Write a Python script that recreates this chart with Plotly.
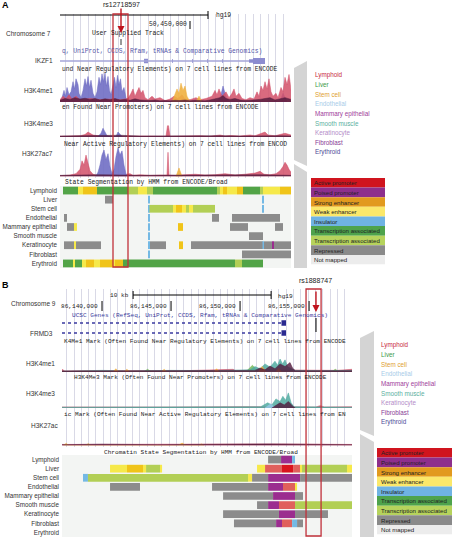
import plotly.graph_objects as go

W, H = 452, 538

# ---------------- data ----------------
CELL_TYPES = ["Lymphoid", "Liver", "Stem cell", "Endothelial", "Mammary epithelial",
              "Smooth muscle", "Keratinocyte", "Fibroblast", "Erythroid"]
CELL_COLORS = ["#c8283c", "#3c9a48", "#e0a030", "#a8cce8", "#a0409a",
               "#5ab0a0", "#b48cc8", "#883c96", "#4c4c98"]
STATE_NAMES = ["Active promoter", "Poised promoter", "Strong enhancer", "Weak enhancer",
               "Insulator", "Transcription associated", "Transcription associated",
               "Repressed", "Not mapped"]
STATE_COLORS = ["#d0141e", "#8e2f8c", "#e29a1e", "#fbe86a", "#6fb3e3",
                "#4ea34c", "#b6d35c", "#8a8a8a", "#ececec"]
TRACK_STATE_COLORS = {"AP": "#d9141e", "WP": "#e0605c", "PP": "#9b2d8f", "SE": "#f0c419",
                      "WE": "#f6e94a", "IN": "#74b9e4", "TA": "#52a447", "TW": "#b2cf55",
                      "RE": "#8c8c8c"}

REGION_A = [50437.0, 50460.1]          # kb, chr7
REGION_B = [86137.10, 86158.11]        # kb, chr9
SNP_A, SNP_A_BOX, SNP_A_NAME = 50443.1, [50442.3, 50443.8], "rs12718597"
SNP_B, SNP_B_BOX, SNP_B_NAME = 86155.50, [86154.78, 86155.87], "rs1888747"
TICK_A, TICK_A_TEXT = [50450.0], ["50,450,000"]
TICK_B = [86140.0, 86145.0, 86150.0, 86155.0]
TICK_B_TEXT = ["86,140,000", "86,145,000", "86,150,000", "86,155,000"]
SCALE_A = [50437.0, 50451.8]
SCALE_B, SCALE_B_LABEL = [86142.25, 86152.25], "10 kb"

GENE_A_SPAN = [50437.0, 50455.9]
GENE_A_EXON_START = [50445.4, 50448.2, 50450.2, 50451.7, 50453.2, 50455.9, 50456.3]
GENE_A_EXON_END = [50445.8, 50448.25, 50450.25, 50451.75, 50453.25, 50456.3, 50457.5]
GENE_A_EXON_H = [0.9, 0.7, 0.7, 0.7, 0.7, 0.7, 1.2]
GENE_B_ROWS = [1, 0]
GENE_B_SPAN = [86137.10, 86153.0]
GENE_B_BLOCK = [86153.0, 86153.33]

SEG_A = [
    ("Lymphoid", 50437.3, 50438.8, "TA"), ("Lymphoid", 50438.8, 50439.3, "WE"),
    ("Lymphoid", 50439.3, 50440.7, "SE"), ("Lymphoid", 50440.7, 50443.8, "TA"),
    ("Lymphoid", 50443.8, 50444.8, "TW"), ("Lymphoid", 50444.8, 50445.7, "WE"),
    ("Lymphoid", 50445.7, 50446.3, "TW"), ("Lymphoid", 50446.3, 50452.7, "TA"),
    ("Lymphoid", 50452.7, 50453.0, "TW"), ("Lymphoid", 50453.0, 50453.3, "WE"),
    ("Lymphoid", 50453.3, 50453.7, "SE"), ("Lymphoid", 50453.7, 50454.7, "WE"),
    ("Lymphoid", 50454.7, 50455.3, "SE"), ("Lymphoid", 50455.3, 50457.0, "TA"),
    ("Lymphoid", 50457.0, 50457.3, "TW"), ("Lymphoid", 50457.3, 50459.0, "WE"),
    ("Lymphoid", 50459.0, 50460.1, "SE"),
    ("Liver", 50441.5, 50442.3, "RE"), ("Liver", 50445.8, 50445.95, "IN"),
    ("Liver", 50457.25, 50457.4, "IN"),
    ("Stem cell", 50445.8, 50445.95, "IN"), ("Stem cell", 50445.95, 50448.3, "TW"),
    ("Stem cell", 50448.3, 50448.6, "WE"), ("Stem cell", 50448.6, 50449.2, "SE"),
    ("Stem cell", 50449.2, 50449.6, "WE"), ("Stem cell", 50449.6, 50449.9, "TW"),
    ("Stem cell", 50449.9, 50450.3, "WE"), ("Stem cell", 50450.3, 50452.5, "TW"),
    ("Stem cell", 50457.25, 50457.4, "IN"),
    ("Endothelial", 50437.4, 50437.7, "RE"), ("Endothelial", 50445.8, 50445.95, "IN"),
    ("Endothelial", 50452.2, 50452.9, "RE"), ("Endothelial", 50454.2, 50459.0, "RE"),
    ("Mammary epithelial", 50437.7, 50438.4, "RE"), ("Mammary epithelial", 50438.4, 50438.7, "WE"),
    ("Mammary epithelial", 50445.8, 50445.95, "IN"), ("Mammary epithelial", 50448.8, 50449.3, "SE"),
    ("Mammary epithelial", 50454.0, 50455.8, "RE"), ("Mammary epithelial", 50458.5, 50459.3, "RE"),
    ("Smooth muscle", 50445.8, 50445.95, "IN"), ("Smooth muscle", 50455.9, 50457.3, "RE"),
    ("Keratinocyte", 50437.4, 50438.4, "RE"), ("Keratinocyte", 50438.4, 50438.6, "WE"),
    ("Keratinocyte", 50438.6, 50441.1, "RE"), ("Keratinocyte", 50445.8, 50445.95, "IN"),
    ("Keratinocyte", 50446.0, 50447.6, "RE"), ("Keratinocyte", 50448.9, 50449.3, "SE"),
    ("Keratinocyte", 50450.1, 50457.25, "RE"), ("Keratinocyte", 50457.25, 50457.4, "IN"),
    ("Keratinocyte", 50457.4, 50458.2, "RE"), ("Keratinocyte", 50458.2, 50458.4, "PP"),
    ("Keratinocyte", 50458.4, 50460.1, "RE"),
    ("Fibroblast", 50445.8, 50445.95, "IN"), ("Fibroblast", 50455.2, 50460.1, "RE"),
    ("Erythroid", 50437.3, 50438.3, "TA"), ("Erythroid", 50438.3, 50438.5, "WE"),
    ("Erythroid", 50438.5, 50439.2, "TA"), ("Erythroid", 50439.2, 50439.6, "WE"),
    ("Erythroid", 50439.6, 50440.4, "SE"), ("Erythroid", 50440.4, 50441.0, "WE"),
    ("Erythroid", 50441.0, 50442.3, "SE"), ("Erythroid", 50442.3, 50442.5, "WE"),
    ("Erythroid", 50442.5, 50443.3, "SE"), ("Erythroid", 50443.3, 50454.5, "TA"),
    ("Erythroid", 50454.5, 50455.2, "TW"), ("Erythroid", 50455.2, 50457.3, "TA"),
]

SEG_B = [
    ("Lymphoid", 86152.03, 86152.97, "RE"), ("Lymphoid", 86152.97, 86153.77, "PP"),
    ("Lymphoid", 86153.77, 86153.98, "IN"),
    ("Liver", 86140.58, 86141.81, "WE"), ("Liver", 86141.81, 86142.97, "SE"),
    ("Liver", 86142.97, 86143.19, "WE"), ("Liver", 86143.19, 86144.20, "TW"),
    ("Liver", 86144.20, 86144.35, "WE"), ("Liver", 86151.23, 86151.81, "WE"),
    ("Liver", 86151.81, 86153.04, "WP"), ("Liver", 86153.04, 86153.84, "AP"),
    ("Liver", 86153.84, 86154.35, "WP"), ("Liver", 86154.35, 86154.49, "WE"),
    ("Liver", 86154.49, 86157.75, "TW"), ("Liver", 86157.75, 86158.11, "WE"),
    ("Stem cell", 86138.62, 86138.98, "IN"), ("Stem cell", 86138.98, 86150.58, "TW"),
    ("Stem cell", 86150.58, 86150.87, "WE"), ("Stem cell", 86150.87, 86152.03, "RE"),
    ("Stem cell", 86152.03, 86154.35, "PP"), ("Stem cell", 86154.35, 86158.11, "RE"),
    ("Endothelial", 86140.58, 86142.75, "RE"), ("Endothelial", 86147.97, 86152.03, "RE"),
    ("Endothelial", 86152.03, 86153.11, "PP"), ("Endothelial", 86153.11, 86153.98, "WP"),
    ("Endothelial", 86153.98, 86154.13, "WE"),
    ("Mammary epithelial", 86148.77, 86152.39, "RE"), ("Mammary epithelial", 86152.39, 86153.98, "PP"),
    ("Mammary epithelial", 86153.98, 86154.56, "RE"),
    ("Smooth muscle", 86151.23, 86152.03, "RE"), ("Smooth muscle", 86152.03, 86152.82, "PP"),
    ("Smooth muscle", 86152.82, 86153.98, "WP"), ("Smooth muscle", 86153.98, 86158.11, "TW"),
    ("Keratinocyte", 86148.77, 86152.82, "RE"), ("Keratinocyte", 86152.82, 86153.98, "PP"),
    ("Keratinocyte", 86153.98, 86156.37, "RE"),
    ("Fibroblast", 86149.56, 86152.61, "RE"), ("Fibroblast", 86152.61, 86153.04, "PP"),
    ("Fibroblast", 86153.04, 86153.77, "WP"), ("Fibroblast", 86153.77, 86154.13, "IN"),
    ("Fibroblast", 86154.13, 86154.56, "RE"),
]

# ---- signal tracks, panel A (kb, relative signal 0-100) ----
A_ME1_BLUE_X = [50437.0, 50437.2, 50437.4, 50437.55, 50437.7, 50437.9, 50438.1, 50438.3, 50438.45, 50438.6,
                50438.8, 50438.9, 50439.1, 50439.3, 50439.5, 50439.65, 50439.8, 50439.95, 50440.1, 50440.3,
                50440.5, 50440.7, 50440.9, 50441.05, 50441.2, 50441.35, 50441.5, 50441.65, 50441.8, 50441.95,
                50442.1, 50442.3, 50442.45, 50442.6, 50442.75, 50442.9, 50443.05, 50443.2, 50443.4, 50443.6,
                50443.8, 50444.0, 50452.8, 50453.1, 50453.3, 50453.5, 50453.7, 50454.0, 50459.0, 50459.3,
                50459.5, 50459.7]
A_ME1_BLUE_Y = [3, 15, 40, 20, 50, 25, 35, 70, 45, 80, 60, 30, 15, 40, 80, 55, 88, 50, 75, 30,
                15, 35, 85, 60, 97, 70, 100, 55, 88, 40, 25, 65, 85, 50, 92, 60, 80, 35, 50, 15,
                5, 2, 2, 25, 55, 30, 10, 2, 2, 30, 15, 2]
A_ME1_RED_X = [50437.0, 50437.3, 50437.6, 50437.9, 50438.2, 50438.6, 50439.0, 50440.0, 50441.0, 50442.0,
               50443.0, 50443.8, 50444.1, 50444.3, 50444.5, 50444.7, 50444.9, 50445.1, 50445.3, 50445.5,
               50445.8, 50446.2, 50446.5, 50447.0, 50447.5, 50448.0, 50448.4, 50448.8, 50449.2, 50449.5,
               50450.0, 50450.6, 50451.0, 50451.6, 50452.2, 50452.5, 50452.7, 50452.9, 50453.2, 50453.6,
               50453.9, 50454.2, 50454.4, 50454.6, 50454.9, 50455.2, 50455.6, 50456.0, 50456.4, 50456.7,
               50456.9, 50457.1, 50457.3, 50457.5, 50457.7, 50457.9, 50458.1, 50458.3, 50458.6, 50458.8,
               50459.1, 50459.3, 50459.5, 50459.7, 50459.9, 50460.0, 50460.1]
A_ME1_RED_Y = [8, 20, 12, 25, 10, 20, 8, 12, 8, 10, 8, 12, 30, 45, 20, 35, 50, 30, 40, 15,
               8, 20, 10, 15, 5, 10, 20, 12, 25, 10, 8, 15, 8, 12, 20, 40, 25, 45, 20, 35,
               15, 30, 45, 20, 30, 12, 8, 15, 10, 35, 20, 55, 40, 70, 45, 80, 35, 20, 30, 15,
               50, 35, 85, 60, 95, 70, 40]
A_ME1_DARK_X = [50437.0, 50437.5, 50438.0, 50438.5, 50439.0, 50439.5, 50440.0, 50440.5, 50441.0, 50441.5,
                50442.0, 50442.5, 50443.0, 50443.5, 50444.0, 50444.5, 50445.0, 50445.5, 50446.0, 50446.5,
                50447.0, 50447.5, 50448.0, 50448.5, 50449.0, 50449.5, 50450.0, 50450.5, 50451.0, 50451.5,
                50452.0, 50452.5, 50453.0, 50453.3, 50453.6, 50454.0, 50454.5, 50455.0, 50455.5, 50456.0,
                50456.5, 50457.0, 50457.5, 50458.0, 50458.5, 50459.0, 50459.5, 50460.1]
A_ME1_DARK_Y = [6, 12, 9, 15, 10, 13, 9, 12, 7, 11, 8, 12, 7, 9, 6, 11, 7, 6, 5, 7,
                4, 5, 4, 6, 5, 7, 4, 6, 5, 4, 7, 11, 15, 22, 12, 9, 12, 7, 5, 6,
                7, 9, 12, 15, 7, 12, 15, 9]
A_ME1_ORANGE_X = [50448.2, 50448.5, 50448.7, 50448.9, 50449.1, 50449.3, 50449.5, 50449.7, 50450.0,
                  50450.6, 50450.9, 50451.2]
A_ME1_ORANGE_Y = [0, 25, 45, 30, 65, 40, 55, 20, 0, 0, 20, 0]

A_ME3_RED_X = [50437.0, 50438.0, 50439.0, 50439.5, 50439.8, 50440.0, 50440.3, 50441.0, 50442.0, 50443.5,
               50445.0, 50446.0, 50447.0, 50447.6, 50447.75, 50447.85, 50448.0, 50449.0, 50450.0, 50451.0,
               50452.0, 50453.0, 50453.5, 50454.0, 50455.0, 50456.0, 50456.5, 50457.2, 50457.5, 50457.8,
               50458.5, 50459.0, 50459.5, 50460.1]
A_ME3_RED_Y = [3, 4, 5, 10, 20, 15, 8, 4, 3, 3, 4, 3, 3, 3, 45, 45, 3, 4, 3, 5,
               3, 8, 4, 6, 4, 8, 5, 15, 20, 8, 5, 10, 15, 8]
A_ME3_BLUE_X = [50440.8, 50441.1, 50441.3, 50441.5, 50441.7, 50442.0, 50442.6, 50442.8, 50443.0, 50443.2]
A_ME3_BLUE_Y = [2, 15, 35, 20, 5, 2, 2, 20, 10, 2]
A_ME3_DARK_X = [50437.0, 50439.0, 50441.0, 50443.0, 50445.0, 50447.0, 50449.0, 50451.0, 50453.0,
                50455.0, 50457.0, 50459.0, 50460.1]
A_ME3_DARK_Y = [4, 6, 5, 7, 4, 5, 4, 6, 5, 4, 6, 5, 4]

A_AC_RED_X = [50437.0, 50438.0, 50438.6, 50439.0, 50439.2, 50439.4, 50439.6, 50439.8, 50440.0, 50440.3,
              50440.6, 50441.0, 50442.0, 50443.4, 50444.0, 50444.3, 50445.0, 50446.0, 50447.0, 50447.7,
              50447.8, 50447.9, 50448.5, 50449.5, 50450.5, 50451.5, 50452.5, 50453.5, 50454.5, 50455.5,
              50456.5, 50457.0, 50457.4, 50458.0, 50458.6, 50459.0, 50459.3, 50459.5, 50459.7, 50459.9,
              50460.1]
A_AC_RED_Y = [3, 5, 10, 25, 55, 40, 75, 45, 20, 8, 5, 4, 5, 6, 10, 4, 6, 4, 5, 5,
              85, 5, 4, 5, 8, 5, 6, 10, 5, 8, 12, 18, 8, 6, 10, 20, 35, 50, 40, 25, 15]
A_AC_BLUE_X = [50440.6, 50440.8, 50441.0, 50441.2, 50441.4, 50441.6, 50441.8, 50442.0, 50442.2, 50442.4,
               50442.6, 50442.8, 50443.0, 50443.2, 50443.4, 50443.6, 50443.8]
A_AC_BLUE_Y = [2, 15, 40, 75, 93, 60, 80, 35, 10, 25, 70, 100, 75, 90, 40, 8, 2]
A_AC_ORANGE_X = [50448.6, 50448.9, 50449.2]
A_AC_ORANGE_Y = [0, 30, 0]
A_AC_DARK_X = [50437.0, 50441.0, 50445.0, 50449.0, 50453.0, 50457.0, 50460.1]
A_AC_DARK_Y = [4, 6, 4, 5, 4, 6, 4]

# ---- signal tracks, panel B ----
B_ME1_TEAL_X = [86137.10, 86140.0, 86142.0, 86145.0, 86148.0, 86150.72, 86151.08, 86151.45, 86151.81,
                86152.17, 86152.53, 86152.72, 86152.90, 86153.08, 86153.26, 86153.44, 86153.62, 86154.0,
                86156.0, 86158.11]
B_ME1_TEAL_Y = [3, 6, 4, 6, 5, 8, 20, 12, 30, 18, 40, 25, 48, 30, 45, 20, 15, 6, 5, 6]
B_ME1_DARK_X = [86137.10, 86151.08, 86151.45, 86151.81, 86152.17, 86152.53, 86152.90, 86153.26,
                86153.62, 86153.80, 86154.0, 86158.11]
B_ME1_DARK_Y = [4, 6, 15, 8, 22, 12, 30, 20, 35, 15, 5, 5]
B_ME1_ORANGE_X = [86137.10, 86140.8, 86141.0, 86141.2, 86141.6, 86141.8, 86142.0, 86144.3, 86144.5,
                  86144.7, 86148.1, 86148.3, 86148.5, 86151.3, 86151.6, 86151.9, 86152.6, 86152.8,
                  86153.0, 86158.11]
B_ME1_ORANGE_Y = [0, 0, 12, 0, 0, 10, 0, 0, 10, 0, 0, 12, 0, 0, 20, 0, 0, 15, 0, 0]
B_ME1_RED_X = [86137.10, 86137.3, 86139.0, 86142.0, 86146.0, 86149.5, 86149.7, 86152.0, 86155.0,
               86157.0, 86158.11]
B_ME1_RED_Y = [10, 4, 5, 4, 5, 10, 4, 8, 8, 6, 10]
B_ME1_GREEN_X = [86143.0, 86143.3, 86143.6, 86150.4, 86150.9, 86151.3, 86156.6, 86156.9, 86157.2]
B_ME1_GREEN_Y = [0, 10, 0, 0, 25, 0, 0, 10, 0]

B_ME3_TEAL_X = [86137.10, 86150.0, 86151.5, 86152.0, 86152.3, 86152.6, 86152.9, 86153.1, 86153.3,
                86153.5, 86153.7, 86153.9, 86158.11]
B_ME3_TEAL_Y = [3, 3, 5, 20, 12, 35, 25, 45, 30, 58, 20, 5, 3]
B_ME3_DARK_X = [86152.3, 86152.6, 86152.9, 86153.2, 86153.5, 86153.8, 86154.0]
B_ME3_DARK_Y = [0, 10, 20, 12, 25, 8, 0]
B_ME3_LBLUE_X = [86151.8, 86152.2, 86152.6]
B_ME3_LBLUE_Y = [0, 15, 0]
B_ME3_RED_X = [86137.10, 86140.0, 86145.0, 86150.0, 86155.5, 86155.8, 86156.1, 86158.11]
B_ME3_RED_Y = [4, 5, 4, 5, 4, 9, 4, 5]

B_AC_ORANGE_X = [86137.2, 86137.4, 86137.6, 86138.8, 86139.0, 86139.2, 86145.5, 86145.8, 86146.1,
                 86147.0, 86147.2, 86147.4]
B_AC_ORANGE_Y = [0, 8, 0, 0, 7, 0, 0, 9, 0, 0, 6, 0]
B_AC_RED_X = [86137.10, 86142.0, 86148.0, 86153.0, 86158.11]
B_AC_RED_Y = [4, 5, 4, 6, 4]
B_AC_DARK_X = [86137.10, 86140.0, 86144.0, 86148.0, 86152.0, 86156.0, 86158.11]
B_AC_DARK_Y = [3, 5, 3, 4, 6, 4, 3]

# ---------------- helpers (layout only) ----------------
def PX(p):
    return p / W

def PY(p):
    return 1 - p / H

C_BLUE = "rgba(112,110,196,0.9)"
C_RED = "rgba(210,80,105,0.85)"
C_DARK = "rgba(80,25,60,0.8)"
C_ORANGE = "rgba(240,176,64,0.9)"
C_TEAL = "rgba(80,170,160,0.85)"
C_GREEN = "rgba(110,180,80,0.8)"
C_LBLUE = "rgba(150,200,230,0.85)"

SANS = "Liberation Sans"
MONO = "Liberation Mono"

fig = go.Figure()

def signal(xs, ys, color, xa, ya):
    fig.add_trace(go.Scatter(x=xs, y=ys, mode="lines", fill="tozeroy", fillcolor=color,
                             line=dict(color=color, width=0.6), xaxis=xa, yaxis=ya,
                             hoverinfo="skip", showlegend=False))

def dummy(xa, ya, x0):
    fig.add_trace(go.Scatter(x=[x0], y=[0], mode="markers", marker=dict(opacity=0),
                             xaxis=xa, yaxis=ya, hoverinfo="skip", showlegend=False))

def segments(seg, xa, ya):
    for code, col in TRACK_STATE_COLORS.items():
        rows = [s for s in seg if s[3] == code]
        if not rows:
            continue
        fig.add_trace(go.Bar(orientation="h", y=[r[0] for r in rows],
                             base=[r[1] for r in rows], x=[r[2] - r[1] for r in rows],
                             width=0.85, marker=dict(color=col, line=dict(width=0)),
                             xaxis=xa, yaxis=ya, hoverinfo="skip", showlegend=False))

# --- panel A traces ---
dummy("x", "y", REGION_A[0])
signal(A_ME1_BLUE_X, A_ME1_BLUE_Y, C_BLUE, "x", "y2")
signal(A_ME1_RED_X, A_ME1_RED_Y, C_RED, "x", "y2")
signal(A_ME1_ORANGE_X, A_ME1_ORANGE_Y, C_ORANGE, "x", "y2")
signal(A_ME1_DARK_X, A_ME1_DARK_Y, C_DARK, "x", "y2")
signal(A_ME3_RED_X, A_ME3_RED_Y, C_RED, "x", "y3")
signal(A_ME3_BLUE_X, A_ME3_BLUE_Y, C_BLUE, "x", "y3")
signal(A_ME3_DARK_X, A_ME3_DARK_Y, C_DARK, "x", "y3")
signal(A_AC_RED_X, A_AC_RED_Y, C_RED, "x", "y4")
signal(A_AC_BLUE_X, A_AC_BLUE_Y, C_BLUE, "x", "y4")
signal(A_AC_ORANGE_X, A_AC_ORANGE_Y, C_ORANGE, "x", "y4")
signal(A_AC_DARK_X, A_AC_DARK_Y, C_DARK, "x", "y4")
# gene IKZF1
fig.add_trace(go.Scatter(x=GENE_A_SPAN, y=[0, 0], mode="lines", line=dict(color="#a4a4d8", width=1.5),
                         xaxis="x", yaxis="y5", hoverinfo="skip", showlegend=False))
fig.add_trace(go.Bar(orientation="h", y=[0] * len(GENE_A_EXON_START), base=GENE_A_EXON_START,
                     x=[e - s for s, e in zip(GENE_A_EXON_START, GENE_A_EXON_END)],
                     width=GENE_A_EXON_H, marker=dict(color="#8c8cd0", line=dict(width=0)),
                     xaxis="x", yaxis="y5", hoverinfo="skip", showlegend=False))
segments(SEG_A, "x2", "y6")

# --- panel B traces ---
dummy("x3", "y7", REGION_B[0])
signal(B_ME1_RED_X, B_ME1_RED_Y, C_RED, "x3", "y8")
signal(B_ME1_GREEN_X, B_ME1_GREEN_Y, C_GREEN, "x3", "y8")
signal(B_ME1_TEAL_X, B_ME1_TEAL_Y, C_TEAL, "x3", "y8")
signal(B_ME1_ORANGE_X, B_ME1_ORANGE_Y, C_ORANGE, "x3", "y8")
signal(B_ME1_DARK_X, B_ME1_DARK_Y, C_DARK, "x3", "y8")
signal(B_ME3_RED_X, B_ME3_RED_Y, C_RED, "x3", "y9")
signal(B_ME3_TEAL_X, B_ME3_TEAL_Y, C_TEAL, "x3", "y9")
signal(B_ME3_LBLUE_X, B_ME3_LBLUE_Y, C_LBLUE, "x3", "y9")
signal(B_ME3_DARK_X, B_ME3_DARK_Y, C_DARK, "x3", "y9")
signal(B_AC_RED_X, B_AC_RED_Y, C_RED, "x3", "y10")
signal(B_AC_ORANGE_X, B_AC_ORANGE_Y, C_ORANGE, "x3", "y10")
signal(B_AC_DARK_X, B_AC_DARK_Y, C_DARK, "x3", "y10")
for r in GENE_B_ROWS:
    fig.add_trace(go.Scatter(x=GENE_B_SPAN, y=[r, r], mode="lines",
                             line=dict(color="#3a3aa0", width=1.6, dash="dot"),
                             xaxis="x3", yaxis="y11", hoverinfo="skip", showlegend=False))
fig.add_trace(go.Bar(orientation="h", y=GENE_B_ROWS, base=[GENE_B_BLOCK[0]] * 2,
                     x=[GENE_B_BLOCK[1] - GENE_B_BLOCK[0]] * 2, width=0.55,
                     marker=dict(color="#2a2a90", line=dict(width=0)),
                     xaxis="x3", yaxis="y11", hoverinfo="skip", showlegend=False))
segments(SEG_B, "x4", "y12")

# --- state legends (as bars) ---
for xa, ya in (("x5", "y13"), ("x6", "y14")):
    fig.add_trace(go.Bar(orientation="h", y=list(range(len(STATE_NAMES))), x=[1] * len(STATE_NAMES),
                         width=1, marker=dict(color=STATE_COLORS, line=dict(width=0)),
                         xaxis=xa, yaxis=ya, hoverinfo="skip", showlegend=False))

# ---------------- axes ----------------
hidden = dict(visible=False, fixedrange=True)
def xgrid(domain, rng, dtick, tick0, anchor):
    return dict(domain=domain, range=rng, showgrid=True, gridcolor="#d9d9e6", gridwidth=1,
                dtick=dtick, tick0=tick0, showticklabels=False, ticks="", zeroline=False,
                showline=False, anchor=anchor, fixedrange=True)

layout = dict(
    width=W, height=H, margin=dict(l=0, r=0, t=0, b=0),
    paper_bgcolor="white", plot_bgcolor="rgba(0,0,0,0)", showlegend=False,
    barmode="overlay", font=dict(family=SANS, size=7, color="#222"),
    xaxis=xgrid([PX(60), PX(291)], REGION_A, 0.75, 50453.3, "y"),
    yaxis=dict(domain=[PY(178), PY(14)], range=[0, 1], **hidden),
    yaxis2=dict(domain=[PY(102), PY(73)], range=[0, 100], anchor="x", **hidden),
    yaxis3=dict(domain=[PY(137), PY(112)], range=[0, 100], anchor="x", **hidden),
    yaxis4=dict(domain=[PY(176.5), PY(148)], range=[0, 100], anchor="x", **hidden),
    yaxis5=dict(domain=[PY(66), PY(56)], range=[-1, 1], anchor="x", **hidden),
    xaxis2=dict(domain=[PX(60), PX(291)], range=REGION_A, anchor="y6", **hidden),
    yaxis6=dict(domain=[PY(268), PY(186)], type="category", categoryorder="array",
                categoryarray=CELL_TYPES, range=[8.5, -0.5], anchor="x2", showgrid=False,
                zeroline=False, ticks="", showline=False, ticklabelstandoff=2,
                tickfont=dict(family=SANS, size=6.3, color="#333"), fixedrange=True),
    xaxis3=xgrid([PX(62), PX(352)], REGION_B, 0.53, 86137.44, "y7"),
    yaxis7=dict(domain=[PY(447), PY(289)], range=[0, 1], anchor="x3", **hidden),
    yaxis8=dict(domain=[PY(372), PY(345)], range=[0, 100], anchor="x3", **hidden),
    yaxis9=dict(domain=[PY(408), PY(382)], range=[0, 100], anchor="x3", **hidden),
    yaxis10=dict(domain=[PY(445.5), PY(419)], range=[0, 100], anchor="x3", **hidden),
    yaxis11=dict(domain=[PY(338), PY(318)], range=[-0.5, 1.5], anchor="x3", **hidden),
    xaxis4=dict(domain=[PX(62), PX(352)], range=REGION_B, anchor="y12", **hidden),
    yaxis12=dict(domain=[PY(537), PY(455)], type="category", categoryorder="array",
                 categoryarray=CELL_TYPES, range=[8.5, -0.5], anchor="x4", showgrid=False,
                 zeroline=False, ticks="", showline=False, ticklabelstandoff=2,
                 tickfont=dict(family=SANS, size=6.3, color="#333"), fixedrange=True),
    xaxis5=dict(domain=[PX(311), PX(385)], range=[0, 1], anchor="y13", **hidden),
    yaxis13=dict(domain=[PY(264.5), PY(178)], range=[8.5, -0.5], anchor="x5", **hidden),
    xaxis6=dict(domain=[PX(377), PX(452)], range=[0, 1], anchor="y14", **hidden),
    yaxis14=dict(domain=[PY(534.5), PY(448)], range=[8.5, -0.5], anchor="x6", **hidden),
)
fig.update_layout(**layout)

# ---------------- shapes ----------------
shapes = []
def line(x0, x1, y0, y1, xref="paper", color="black", width=1):
    shapes.append(dict(type="line", xref=xref, yref="paper", x0=x0, x1=x1, y0=y0, y1=y1,
                       line=dict(color=color, width=width)))

for xr, yr in (("x2 domain", "y6 domain"), ("x4 domain", "y12 domain")):
    shapes.append(dict(type="rect", xref=xr, yref=yr, x0=0, x1=1, y0=0, y1=1, layer="below",
                       fillcolor="#f3f5f3", line=dict(width=0)))
line(SCALE_A[0], SCALE_A[1], PY(15), PY(15), "x")
line(SCALE_A[1], SCALE_A[1], PY(11), PY(19), "x")
for t in TICK_A:
    line(t, t, PY(21), PY(29), "x")
line(SCALE_B[0], SCALE_B[1], PY(295), PY(295), "x3")
line(SCALE_B[0], SCALE_B[0], PY(291), PY(299), "x3")
line(SCALE_B[1], SCALE_B[1], PY(291), PY(299), "x3")
for t in TICK_B:
    line(t, t, PY(301), PY(311), "x3")
line(SNP_A, SNP_A, PY(39), PY(45), "x", "#333", 1)
line(SNP_B, SNP_B, PY(318), PY(332), "x3", "#222", 1.2)
shapes.append(dict(type="rect", xref="x", yref="paper", x0=SNP_A_BOX[0], x1=SNP_A_BOX[1],
                   y0=PY(267), y1=PY(14), line=dict(color="#c0303a", width=1.3)))
shapes.append(dict(type="rect", xref="x3", yref="paper", x0=SNP_B_BOX[0], x1=SNP_B_BOX[1],
                   y0=PY(536), y1=PY(289), line=dict(color="#c0303a", width=1.3)))

def poly(pts):
    s = "M " + " L ".join(f"{PX(x):.5f},{PY(y):.5f}" for x, y in pts) + " Z"
    shapes.append(dict(type="path", xref="paper", yref="paper", path=s,
                       fillcolor="#d4d4d4", line=dict(width=0), layer="below"))

poly([(294, 68), (307, 61), (307, 166), (294, 160)])
poly([(294, 164), (307, 172), (307, 268), (294, 268)])
poly([(360, 338), (374, 331), (374, 436), (360, 430)])
poly([(360, 434), (374, 442), (374, 537), (360, 537)])
fig.update_layout(shapes=shapes)

# ---------------- annotations ----------------
anns = []
def text(t, x, y, size=6.5, color="#222", anchor="left", family=SANS, bold=False):
    anns.append(dict(text=f"<b>{t}</b>" if bold else t, x=PX(x), y=PY(y), xref="paper", yref="paper",
                     xanchor=anchor, yanchor="middle", showarrow=False,
                     font=dict(family=family, size=size, color=color)))

text("A", 0, 5, 9, "#000", bold=True)
text("B", 0, 285, 9, "#000", bold=True)
text(SNP_A_NAME, 121, 4.5, 7, "#222", "center")
text(SNP_B_NAME, 315, 280, 7, "#222", "center")

for t, x, y in (("Chromosome 7", 53, 33), ("IKZF1", 55, 61), ("H3K4me1", 55, 91),
                ("H3K4me3", 55, 123), ("H3K27ac7", 55, 154),
                ("Chromosome 9", 58, 303), ("FRMD3", 55, 333), ("H3K4me1", 57, 363),
                ("H3K4me3", 57, 393), ("H3K27ac", 60, 425)):
    text(t, x, y, 6.5, "#333", "right")

MA = 6.3
text("hg19", 214, 15, MA, "#222", "left", MONO)
text(TICK_A_TEXT[0], 189, 25, MA, "#222", "right", MONO)
text("User Supplied Track", 90, 34, MA, "#222", "left", MONO)
text("q, UniProt, CCDS, Rfam, tRNAs &amp; Comparative Genomics)", 60, 52, MA, "#5656a8", "left", MONO)
text("und Near Regulatory Elements) on 7 cell lines from ENCODE", 60, 70, MA, "#222", "left", MONO)
text("en Found Near Promoters) on 7 cell lines from ENCODE", 60, 108, MA, "#222", "left", MONO)
text("Near Active Regulatory Elements) on 7 cell lines from ENCOD", 62, 144, MA, "#222", "left", MONO)
text("State Segmentation by HMM from ENCODE/Broad", 63, 182, MA, "#222", "left", MONO)

MB = 6.1
text(SCALE_B_LABEL, 131, 295, MB, "#222", "right", MONO)
text("hg19", 276, 296, MB, "#222", "left", MONO)
for t, lab in zip(TICK_B, TICK_B_TEXT):
    anns.append(dict(text=lab, x=t, y=PY(306), xref="x3", yref="paper", xanchor="right",
                     yanchor="middle", xshift=-2, showarrow=False,
                     font=dict(family=MONO, size=MB, color="#222")))
text("UCSC Genes (RefSeq, UniProt, CCDS, Rfam, tRNAs &amp; Comparative Genomics)", 70, 315, MB, "#3a3a9c", "left", MONO)
text("K4Me1 Mark (Often Found Near Regulatory Elements) on 7 cell lines from ENCODE", 62, 341, MB, "#222", "left", MONO)
text("H3K4Me3 Mark (Often Found Near Promoters) on 7 cell lines from ENCODE", 72, 377, MB, "#222", "left", MONO)
text("ic Mark (Often Found Near Active Regulatory Elements) on 7 cell lines from EN", 62, 414, MB, "#222", "left", MONO)
text("Chromatin State Segmentation by HMM from ENCODE/Broad", 102, 452, MB, "#222", "left", MONO)

for i, (n, c) in enumerate(zip(CELL_TYPES, CELL_COLORS)):
    text(n, 313, 75 + 9.65 * i, 6.3, c, "left")
    text(n, 379, 345 + 9.65 * i, 6.3, c, "left")

for xa, ya in (("x5", "y13"), ("x6", "y14")):
    for i, n in enumerate(STATE_NAMES):
        anns.append(dict(text=n, x=0.02, y=i, xref=xa, yref=ya, xanchor="left", yanchor="middle",
                         showarrow=False, font=dict(family=SANS, size=6.1, color="#222")))

anns.append(dict(text="", x=SNP_A, y=PY(33), xref="x", yref="paper", showarrow=True,
                 arrowhead=2, arrowsize=1, arrowwidth=1.4, arrowcolor="#c0141e", ax=0, ay=-26))
anns.append(dict(text="", x=SNP_B, y=PY(312), xref="x3", yref="paper", showarrow=True,
                 arrowhead=2, arrowsize=1, arrowwidth=1.4, arrowcolor="#c0141e", ax=0, ay=-22))

fig.update_layout(annotations=anns)
fig.write_html("out.html", config={"displayModeBar": False},
               post_script="document.body.style.margin='0px';document.body.style.padding='0px';")
